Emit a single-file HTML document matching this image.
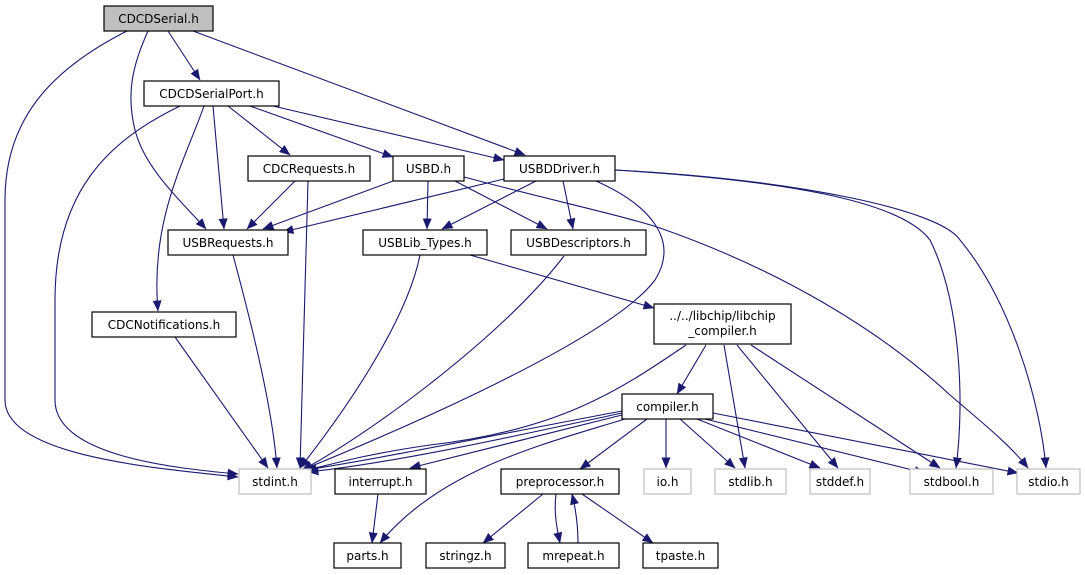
<!DOCTYPE html>
<html><head><meta charset="utf-8"><style>
html,body{margin:0;padding:0;background:#fff;}
svg{display:block;}
text{font-family:"DejaVu Sans","Liberation Sans",sans-serif;font-size:12px;text-anchor:middle;fill:#000;}
.e{fill:none;stroke:#191970;stroke-width:1.1;marker-end:url(#a);}
.n{fill:#fff;stroke:#000;stroke-width:1.2;}
.g{fill:#fff;stroke:#bfbfbf;stroke-width:1.2;}
</style></head><body>
<svg width="1085" height="575" viewBox="0 0 1085 575" xmlns="http://www.w3.org/2000/svg">
<defs><marker id="a" markerWidth="11" markerHeight="9" refX="10.5" refY="4.5" orient="auto" markerUnits="userSpaceOnUse"><path d="M0,0 L11,4.5 L0,9 z" fill="#191970"/></marker></defs>
<path class="e" d="M127,31 C50,70 5,120 5,200 L5,400 C5,455 150,468 238,477"/>
<path class="e" d="M148,31 C135,60 125,90 135,130 C145,170 185,205 206,229"/>
<path class="e" d="M168,31 L200,80"/>
<path class="e" d="M193,31 L525,155"/>
<path class="e" d="M180,106 C110,140 55,190 55,300 L55,400 C55,455 170,468 238,474"/>
<path class="e" d="M204,106 C185,160 150,220 158,311"/>
<path class="e" d="M213,106 L224,229"/>
<path class="e" d="M228,106 L290,155"/>
<path class="e" d="M250,106 L393,157"/>
<path class="e" d="M273,106 L504,160"/>
<path class="e" d="M295,181 L247,229"/>
<path class="e" d="M308,181 L300,468"/>
<path class="e" d="M233,255 C245,300 272,400 277,468"/>
<path class="e" d="M175,337 L268,468"/>
<path class="e" d="M393,181 L263,229"/>
<path class="e" d="M428,181 L427,229"/>
<path class="e" d="M455,181 L547,229"/>
<path class="e" d="M464,177 C550,200 620,215 660,228 C780,270 880,330 950,395 C985,425 1010,445 1028,468"/>
<path class="e" d="M615,170 C780,180 900,200 930,240 C960,300 965,400 956,468"/>
<path class="e" d="M615,170 C800,180 940,210 960,240 C1010,300 1040,400 1046,468"/>
<path class="e" d="M596,181 C650,205 680,240 655,280 C610,340 400,430 302,470"/>
<path class="e" d="M536,181 L442,229"/>
<path class="e" d="M563,181 L573,229"/>
<path class="e" d="M504,179 L283,232"/>
<path class="e" d="M470,255 L654,308"/>
<path class="e" d="M420,255 C405,330 330,430 300,468"/>
<path class="e" d="M564,256 C500,340 360,440 302,470"/>
<path class="e" d="M686,345 C620,390 560,430 430,445 C360,455 330,465 303,471"/>
<path class="e" d="M706,345 L677,394"/>
<path class="e" d="M724,345 L745,468"/>
<path class="e" d="M737,345 L838,468"/>
<path class="e" d="M751,345 L940,468"/>
<path class="e" d="M622,411 C520,430 400,455 306,470"/>
<path class="e" d="M622,413 C520,435 400,462 308,472"/>
<path class="e" d="M622,415 L410,468"/>
<path class="e" d="M625,419 C540,445 440,470 380,543"/>
<path class="e" d="M647,419 L580,469"/>
<path class="e" d="M666,419 L666,468"/>
<path class="e" d="M680,419 L735,468"/>
<path class="e" d="M697,419 L820,468"/>
<path class="e" d="M705,419 L925,473"/>
<path class="e" d="M713,413 L1018,473"/>
<path class="e" d="M378,494 L372,543"/>
<path class="e" d="M543,494 L483,543"/>
<path class="e" d="M556,494 C554,510 556,525 560,543"/>
<path class="e" d="M578,543 C578,525 576,510 572,494"/>
<path class="e" d="M582,494 L653,543"/>
<rect x="104" y="6" width="109" height="25" fill="#bfbfbf" stroke="#000" stroke-width="1.2"/><text x="158.5" y="23">CDCDSerial.h</text>
<rect class="n" x="144" y="81" width="135" height="25"/><text x="211.5" y="98">CDCDSerialPort.h</text>
<rect class="n" x="248" y="156" width="122" height="25"/><text x="309" y="173">CDCRequests.h</text>
<rect class="n" x="393" y="156" width="71" height="25"/><text x="428.5" y="173">USBD.h</text>
<rect class="n" x="504" y="156" width="111" height="25"/><text x="559.5" y="173">USBDDriver.h</text>
<rect class="n" x="168" y="230" width="120" height="25"/><text x="228" y="247">USBRequests.h</text>
<rect class="n" x="363" y="230" width="124" height="25"/><text x="425" y="247">USBLib_Types.h</text>
<rect class="n" x="511" y="230" width="135" height="25"/><text x="578.5" y="247">USBDescriptors.h</text>
<rect class="n" x="92" y="312" width="144" height="25"/><text x="164" y="329">CDCNotifications.h</text>
<rect class="n" x="654" y="304" width="137" height="40"/><text x="722.5" y="320">../../libchip/libchip</text><text x="722.5" y="335">_compiler.h</text>
<rect class="n" x="622" y="394" width="91" height="25"/><text x="667.5" y="411">compiler.h</text>
<rect class="g" x="239" y="469" width="72" height="25"/><text x="275" y="486">stdint.h</text>
<rect class="n" x="335" y="469" width="91" height="25"/><text x="380.5" y="486">interrupt.h</text>
<rect class="n" x="501" y="469" width="118" height="25"/><text x="560" y="486">preprocessor.h</text>
<rect class="g" x="644" y="469" width="47" height="25"/><text x="667.5" y="486">io.h</text>
<rect class="g" x="715" y="469" width="71" height="25"/><text x="750.5" y="486">stdlib.h</text>
<rect class="g" x="810" y="469" width="60" height="25"/><text x="840" y="486">stddef.h</text>
<rect class="g" x="910" y="469" width="83" height="25"/><text x="951.5" y="486">stdbool.h</text>
<rect class="g" x="1017" y="469" width="63" height="25"/><text x="1048.5" y="486">stdio.h</text>
<rect class="n" x="334" y="543" width="67" height="25"/><text x="367.5" y="560">parts.h</text>
<rect class="n" x="426" y="543" width="79" height="25"/><text x="465.5" y="560">stringz.h</text>
<rect class="n" x="528" y="543" width="91" height="25"/><text x="573.5" y="560">mrepeat.h</text>
<rect class="n" x="643" y="543" width="75" height="25"/><text x="680.5" y="560">tpaste.h</text>
</svg>
</body></html>
